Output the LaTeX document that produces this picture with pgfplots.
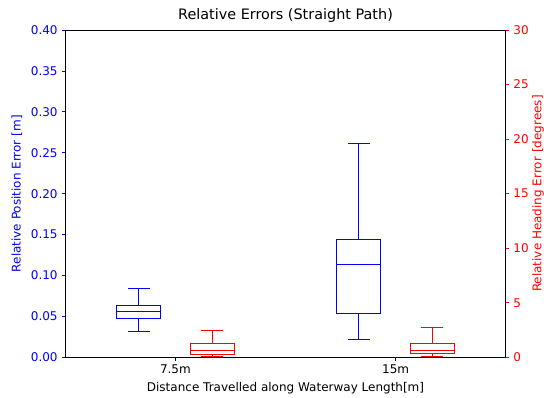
\documentclass[border=0pt]{standalone}
\usepackage{pgfplots}
\pgfplotsset{compat=1.18}
\usepgfplotslibrary{statistics}
\usepackage{fontspec}
\setmainfont{DejaVu Sans}
\newcommand{\tf}{\fontsize{12bp}{14bp}\selectfont}
\begin{document}
\tf
\begin{tikzpicture}
\useasboundingbox (-65.3bp,-40.7bp) rectangle (478.7bp,357.3bp);
\begin{axis}[
  scale only axis, width=440.4bp, height=327.3bp,
  xmin=0.5, xmax=2.5, ymin=0, ymax=0.4,
  xtick={1,2}, xticklabels={7.5m,15m},
  ytick={0,0.05,...,0.41},
  xtick pos=bottom, ytick pos=left, tick align=outside,
  major tick length=3.5bp,
  axis line style={black, line width=0.8pt},
  ytick style={blue, line width=0.8pt},
  xtick style={black, line width=0.8pt},
  yticklabel style={/pgf/number format/fixed, /pgf/number format/fixed zerofill, /pgf/number format/precision=2, text=blue, font=\tf},
  xticklabel style={font=\tf},
  /pgf/number format/assume math mode=true,
  ylabel={Relative Position Error [m]},
  ylabel style={text=blue, font=\tf, at={([xshift=-48.5bp]axis description cs:0,0.5)}, anchor=center},
  xlabel={Distance Travelled along Waterway Length[m]},
  xlabel style={font=\tf},
  title={Relative Errors (Straight Path)},
  title style={font=\fontsize{14.4bp}{17bp}\selectfont, yshift=-3bp},
  boxplot/draw direction=y,
]
\addplot[blue, line width=1pt, boxplot prepared={draw position=0.833, lower whisker=0.0318, lower quartile=0.0477, median=0.0563, upper quartile=0.0636, upper whisker=0.0844, box extend=0.2, whisker extend=0.1}] coordinates {};
\addplot[blue, line width=1pt, boxplot prepared={draw position=1.833, lower whisker=0.0216, lower quartile=0.0534, median=0.1138, upper quartile=0.1443, upper whisker=0.2614, box extend=0.2, whisker extend=0.1}] coordinates {};
\end{axis}
\begin{axis}[
  scale only axis, width=440.4bp, height=327.3bp,
  xmin=0.5, xmax=2.5, ymin=0, ymax=30,
  axis x line=none, axis y line*=right,
  ytick={0,5,...,30},
  tick align=outside, major tick length=3.5bp,
  axis line style={black, line width=0.8pt},
  ytick style={red, line width=0.8pt},
  yticklabel style={text=red, font=\tf},
  /pgf/number format/assume math mode=true,
  ylabel={Relative Heading Error [degrees]},
  ylabel style={text=red, font=\tf, at={([xshift=32.3bp]axis description cs:1,0.5)}, anchor=center},
  boxplot/draw direction=y,
]
\addplot[red, line width=1pt, boxplot prepared={draw position=1.167, lower whisker=0.08, lower quartile=0.24, median=0.58, upper quartile=1.22, upper whisker=2.45, box extend=0.2, whisker extend=0.1}] coordinates {};
\addplot[red, line width=1pt, boxplot prepared={draw position=2.167, lower whisker=0.1, lower quartile=0.33, median=0.63, upper quartile=1.31, upper whisker=2.69, box extend=0.2, whisker extend=0.1}] coordinates {};
\end{axis}
\end{tikzpicture}
\end{document}
